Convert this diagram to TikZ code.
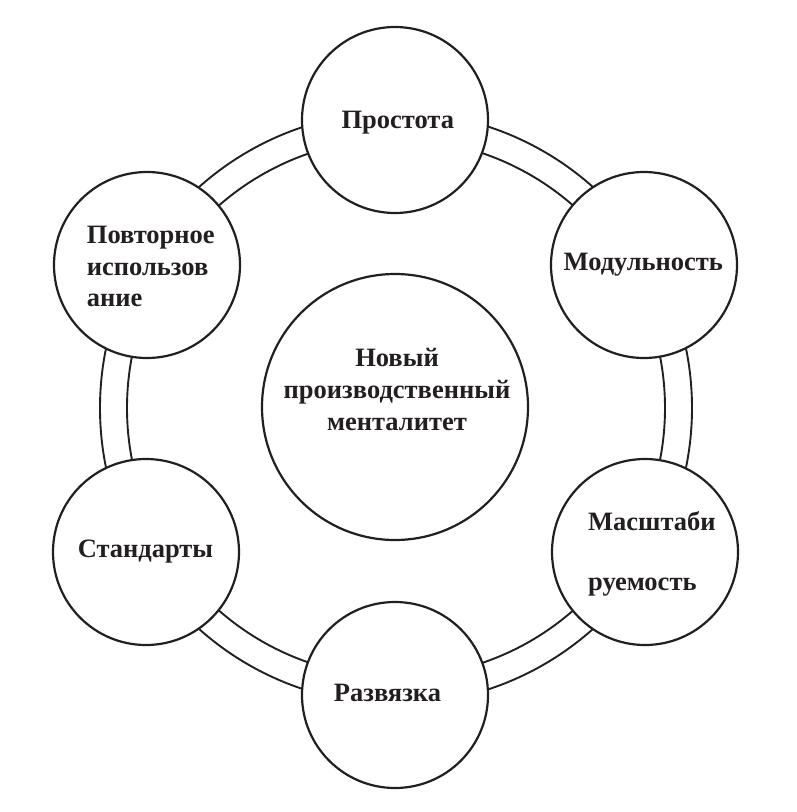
\documentclass[tikz,border=0pt]{standalone}
\usepackage{fontspec}
\setmainfont{Liberation Serif}
\definecolor{ink}{HTML}{231F20}
\begin{document}
\begin{tikzpicture}[x=1pt,y=-1pt,
  ringline/.style={draw=ink,line width=1.9pt},
  petal/.style={circle,draw=ink,fill=white,line width=2.2pt,minimum size=186pt,inner sep=0pt},
  hub/.style={circle,draw=ink,fill=white,line width=2.2pt,minimum size=266pt,inner sep=0pt},
  lbl/.style={text=ink,font=\fontsize{26.5}{31.7}\selectfont\bfseries,inner sep=0pt}]
\useasboundingbox (0,0) rectangle (796,812);
\coordinate (o) at (396,408);
\draw[ringline] (o) circle[radius=296pt];
\draw[ringline] (o) circle[radius=269pt];
\node[hub] (hub) at (395,407) {};
\node[petal] (p1) at (395,120) {};
\node[petal] (p2) at (644,265) {};
\node[petal] (p3) at (645,552) {};
\node[petal] (p4) at (395,695) {};
\node[petal] (p5) at (146,552) {};
\node[petal] (p6) at (147,265) {};
\node[lbl,align=center,anchor=base] (thub) at (397,430) {Новый\\производственный\\менталитет};
\node[lbl,anchor=base] (t1) at (397.8,128.3) {Простота};
\node[lbl,anchor=base] (t2) at (643.3,270.7) {Модульность};
\node[lbl,align=left,anchor=base west,font=\fontsize{26.5}{60}\selectfont\bfseries] (t3) at (588,590) {Масштаби\\руемость};
\node[lbl,anchor=base] (t4) at (387.5,701.7) {Развязка};
\node[lbl,anchor=base] (t5) at (145.5,557.7) {Стандарты};
\node[lbl,align=left,anchor=base west] (t6) at (86.7,306.7) {Повторное\\использов\\ание};
\end{tikzpicture}
\end{document}
